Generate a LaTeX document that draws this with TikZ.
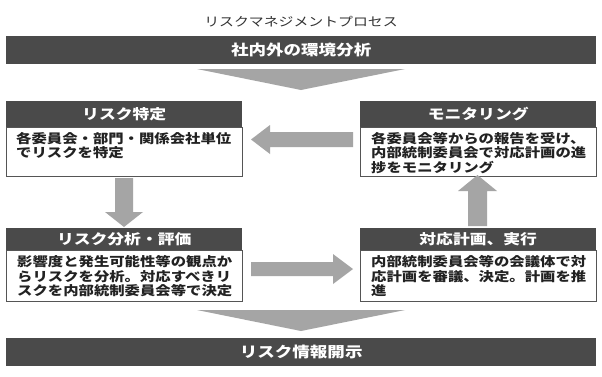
\documentclass[tikz,border=0pt]{standalone}
\usepackage{fontspec}
\newfontfamily\jp[FakeStretch=1.2]{Noto Sans CJK JP}
\definecolor{hdrc}{HTML}{4A4A4A}
\definecolor{arrc}{HTML}{A5A5A5}
\definecolor{bordc}{HTML}{555555}
\definecolor{txtc}{HTML}{222222}
\definecolor{titc}{HTML}{333333}
\begin{document}
\begin{tikzpicture}[x=1pt,y=-1pt,
  bar/.style={fill=hdrc, draw=none, text=white, inner sep=0pt, anchor=north west,
    minimum width=590pt, minimum height=28pt, font=\jp\bfseries\fontsize{14.6}{17}\selectfont},
  hdrbox/.style={fill=hdrc, draw=none, text=white, inner sep=0pt, anchor=north west,
    minimum width=236pt, font=\jp\bfseries\fontsize{14}{17}\selectfont},
  bodybox/.style={fill=white, draw=bordc, line width=0.9pt, inner sep=0pt, anchor=north west,
    minimum width=236pt},
  bodytext/.style={text=txtc, inner sep=0pt, anchor=north west, align=left,
    font=\jp\bfseries\fontsize{12.8}{14.5}\selectfont},
  blockarrow/.style={fill=arrc, draw=none},
  chevron/.style={fill=arrc, draw=none}
]
\useasboundingbox[fill=white] (0,0) rectangle (602,376);

% title
\node[text=titc, font=\jp\fontsize{12.4}{15}\selectfont, inner sep=0pt] (title) at (301,22) {リスクマネジメントプロセス};

% top bar
\node[bar] (topbar) at (6,36) {社内外の環境分析};
\path[chevron] (197,69) -- (405,69) -- (301,90) -- cycle;

% risk identification
\node[hdrbox, minimum height=26pt] (idh) at (6,101) {リスク特定};
\node[bodybox, minimum height=49pt] (idb) at (idh.south west) {};
\node[bodytext] (idt) at ([xshift=10pt,yshift=-4.5pt]idb.north west) {各委員会・部門・関係会社単位\\でリスクを特定};

% monitoring
\node[hdrbox, minimum height=26pt] (monh) at (360,101) {モニタリング};
\node[bodybox, minimum height=49pt] (monb) at (monh.south west) {};
\node[bodytext] (mont) at ([xshift=11pt,yshift=-4.5pt]monb.north west) {各委員会等からの報告を受け、\\内部統制委員会で対応計画の進\\捗をモニタリング};

% analysis
\node[hdrbox, minimum height=22pt] (anh) at (6,228) {リスク分析・評価};
\node[bodybox, minimum height=51pt] (anb) at (anh.south west) {};
\node[bodytext] (ant) at ([xshift=11pt,yshift=-5pt]anb.north west) {影響度と発生可能性等の観点か\\らリスクを分析。対応すべきリ\\スクを内部統制委員会等で決定};

% plan
\node[hdrbox, minimum height=22pt] (plh) at (360,228) {対応計画、実行};
\node[bodybox, minimum height=51pt] (plb) at (plh.south west) {};
\node[bodytext] (plt) at ([xshift=11pt,yshift=-5pt]plb.north west) {内部統制委員会等の会議体で対\\応計画を審議、決定。計画を推\\進};

% block arrows
% monitoring -> identification (left)
\path[blockarrow] (353,132) -- (270,132) -- (270,125) -- (251,139.5) -- (270,154) -- (270,147) -- (353,147) -- cycle;
% identification -> analysis (down)
\path[blockarrow] (115,178) -- (115,212) -- (105,212) -- (124,227) -- (143,212) -- (133,212) -- (133,178) -- cycle;
% analysis -> plan (right)
\path[blockarrow] (251,262) -- (333,262) -- (333,254) -- (353,269) -- (333,284) -- (333,276) -- (251,276) -- cycle;
% plan -> monitoring (up)
\path[blockarrow] (468,226) -- (468,191) -- (458,191) -- (477.5,175) -- (497,191) -- (487,191) -- (487,226) -- cycle;

% bottom
\path[chevron] (197,310) -- (405,310) -- (301,331) -- cycle;
\node[bar] (botbar) at (6,338) {リスク情報開示};
\end{tikzpicture}
\end{document}
